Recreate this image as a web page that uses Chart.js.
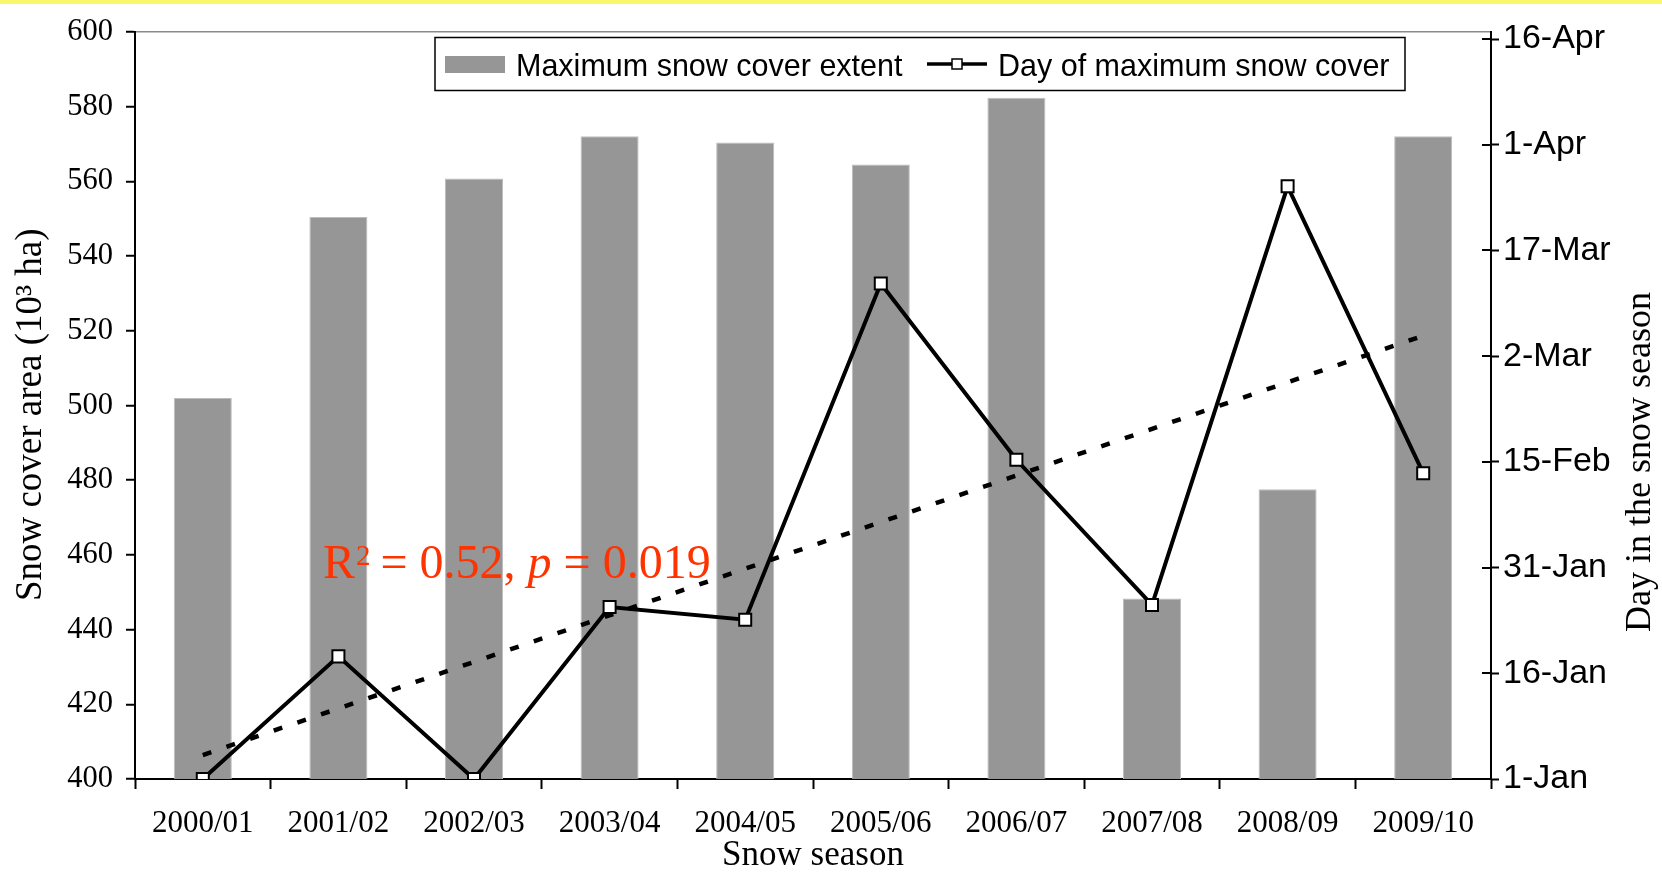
<!DOCTYPE html>
<html><head><meta charset="utf-8">
<script src="https://cdn.jsdelivr.net/npm/chart.js@4"></script>
<style>
html,body{margin:0;padding:0;background:#fff;overflow:hidden}
#wrap{position:relative;width:1662px;height:873px}
#band{position:absolute;left:0;top:0;width:1662px;height:4px;background:#f9f86c}
</style></head><body>
<div id="wrap"><canvas id="c" width="1662" height="873"></canvas><div id="band"></div></div>
<script>
// ---- data ----
const seasons = ['2000/01','2001/02','2002/03','2003/04','2004/05','2005/06','2006/07','2007/08','2008/09','2009/10'];
const maxSnowExtent = [502, 550.5, 560.8, 572.1, 570.4, 564.5, 582.4, 448.3, 477.6, 572.1];
const dayOfMaxSnow = [0, 17.4, 0, 24.4, 22.6, 70.3, 45.3, 24.7, 84.1, 43.4];
const trendDay = [3.4, null, null, null, null, null, null, null, null, 62.9];
const dayTickValues = [0, 15, 30, 45, 60, 75, 90, 105];
const dayTickLabels = ['1-Jan','16-Jan','31-Jan','15-Feb','2-Mar','17-Mar','1-Apr','16-Apr'];
const seriesNames = ['Maximum snow cover extent', 'Day of maximum snow cover'];
const leftTitle = 'Snow cover area (10\u00B3 ha)';
const rightTitle = 'Day in the snow season';
const bottomTitle = 'Snow season';

const serif = "'Liberation Serif', 'Times New Roman', serif";
const sans = "'Liberation Sans', Arial, sans-serif";

const extras = {
  id: 'extras',
  afterDraw(chart) {
    const ctx = chart.ctx;
    const y1 = chart.scales.y1;
    ctx.save();
    // right axis ticks crossing inward
    ctx.strokeStyle = '#000'; ctx.lineWidth = 2;
    y1.ticks.forEach((t, i) => {
      const py = Math.round(y1.getPixelForTick(i));
      ctx.beginPath(); ctx.moveTo(y1.left - 9, py); ctx.lineTo(y1.left, py); ctx.stroke();
    });
    // right axis title (reads bottom to top)
    ctx.save();
    ctx.translate(1650, 632); ctx.rotate(-Math.PI / 2);
    ctx.font = '36px ' + serif; ctx.fillStyle = '#000';
    ctx.textAlign = 'left'; ctx.textBaseline = 'alphabetic';
    ctx.fillText(rightTitle, 0, 0);
    ctx.restore();

    // regression annotation
    ctx.fillStyle = '#ff3300'; ctx.textBaseline = 'alphabetic'; ctx.textAlign = 'left';
    let x = 323; const by = 578;
    ctx.font = '48px ' + serif; ctx.fillText('R', x, by); x += ctx.measureText('R').width + 1;
    ctx.font = '29px ' + serif; ctx.fillText('2', x, by - 13); x += ctx.measureText('2').width - 2;
    ctx.font = '48px ' + serif; ctx.fillText(' = 0.52, ', x, by); x += ctx.measureText(' = 0.52, ').width;
    ctx.font = 'italic 48px ' + serif; ctx.fillText('p', x, by); x += ctx.measureText('p').width;
    ctx.font = '48px ' + serif; ctx.fillText(' = 0.019', x, by);

    // legend
    const ds = chart.data.datasets;
    ctx.fillStyle = '#fff'; ctx.fillRect(435, 37.5, 970, 53);
    ctx.strokeStyle = '#000'; ctx.lineWidth = 1.5; ctx.strokeRect(435, 37.5, 970, 53);
    ctx.fillStyle = ds[2].backgroundColor; ctx.fillRect(445, 56, 60, 17);
    ctx.fillStyle = '#000'; ctx.font = '30.5px ' + sans; ctx.textBaseline = 'alphabetic';
    ctx.fillText(ds[2].label, 516, 76);
    ctx.strokeStyle = ds[0].borderColor; ctx.lineWidth = 3.5;
    ctx.beginPath(); ctx.moveTo(927, 64); ctx.lineTo(987, 64); ctx.stroke();
    ctx.fillStyle = '#fff'; ctx.fillRect(952, 59, 10, 10);
    ctx.lineWidth = 1.5; ctx.strokeRect(952, 59, 10, 10);
    ctx.fillStyle = '#000'; ctx.fillText(ds[0].label, 998, 76);
    ctx.restore();
  }
};

new Chart(document.getElementById('c'), {
  data: {
    labels: seasons,
    datasets: [
      { type: 'line', label: seriesNames[1], data: dayOfMaxSnow, yAxisID: 'y1', order: 0,
        borderColor: '#000', borderWidth: 4, borderJoinStyle: 'miter', tension: 0,
        pointStyle: 'rect', pointRadius: 8.5, pointBorderWidth: 2, pointBackgroundColor: '#fff', pointBorderColor: '#000' },
      { type: 'line', label: 'trend', data: trendDay, yAxisID: 'y1', order: 1, spanGaps: true,
        borderColor: '#000', borderWidth: 4.5, borderDash: [9, 16], pointRadius: 0, borderCapStyle: 'butt' },
      { type: 'bar', label: seriesNames[0], data: maxSnowExtent, yAxisID: 'y', order: 2,
        backgroundColor: '#969696', borderColor: '#bdbdbd', borderWidth: 1,
        categoryPercentage: 1, barPercentage: 0.428 }
    ]
  },
  options: {
    responsive: false, animation: false,
    layout: { padding: { top: 32, left: 0, right: 0, bottom: 0 } },
    plugins: { legend: { display: false }, tooltip: { enabled: false } },
    scales: {
      x: {
        afterFit(s) { s.height = 94; },
        grid: { offset: true, drawOnChartArea: false, tickLength: 10, tickColor: '#000', tickWidth: 2 },
        border: { color: '#000', width: 2 },
        ticks: { color: '#000', font: { family: serif, size: 31 }, padding: 16, maxRotation: 0 },
        title: { display: true, text: bottomTitle, color: '#000', font: { family: serif, size: 35, lineHeight: 1 }, padding: { top: 0, bottom: 0 } }
      },
      y: {
        position: 'left', min: 400, max: 600,
        afterFit(s) { s.width = 135; },
        ticks: { stepSize: 20, color: '#000', font: { family: serif, size: 30.5 }, padding: 13 },
        grid: { drawOnChartArea: true, tickLength: 9, tickColor: '#000', tickWidth: 2,
          color: c => (c.tick && c.tick.value === 600) ? '#8a8a8a' : 'rgba(0,0,0,0)', lineWidth: 1.5 },
        border: { color: '#000', width: 2 },
        title: { display: true, text: leftTitle + '\u2002', color: '#000', font: { family: serif, size: 37, lineHeight: 1 }, padding: { top: 13, bottom: 0 } }
      },
      y1: {
        position: 'right', min: 0, max: 106,
        afterFit(s) { s.width = 171; },
        afterBuildTicks(s) { s.ticks = dayTickValues.map(v => ({ value: v })); },
        ticks: { color: '#000', font: { family: sans, size: 34 }, padding: 4,
          callback: (v, i) => dayTickLabels[i] },
        grid: { drawOnChartArea: false, tickLength: 8, tickColor: '#000', tickWidth: 2 },
        border: { color: '#000', width: 2 }
      }
    }
  },
  plugins: [extras]
});
</script>
</body></html>
